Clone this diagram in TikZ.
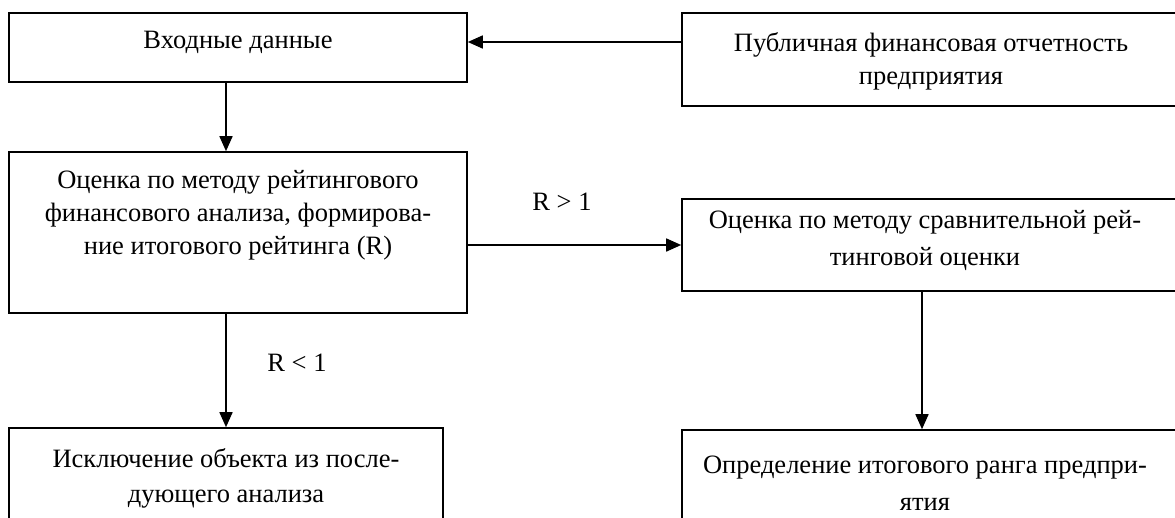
\documentclass[tikz,border=0pt]{standalone}
\usepackage{fontspec}
\setmainfont{Liberation Serif}
\usetikzlibrary{arrows.meta}
\tikzset{
  x=1pt, y=-1pt,
  box/.style={draw, line width=1.6pt, inner sep=0pt},
  txt/.style={align=center, inner sep=0pt, font=\fontsize{26.5}{33}\selectfont},
  conn/.style={line width=1.6pt, -{Triangle[length=15pt,width=13pt]}},
  lbl/.style={inner sep=0pt, font=\fontsize{26.5}{33}\selectfont}
}
\begin{document}
\begin{tikzpicture}
\clip (0,0) rectangle (1175,517);
% boxes
\node[box, minimum width=458pt, minimum height=69pt] (b1) at (238,47.5) {};
\node[box, minimum width=520pt, minimum height=93pt] (b2) at (942,59.5) {};
\node[box, minimum width=458pt, minimum height=161pt] (b3) at (238,232.5) {};
\node[box, minimum width=520pt, minimum height=92pt] (b4) at (942,245) {};
\node[box, minimum width=434pt, minimum height=120pt] (b5) at (226,488) {};
\node[box, minimum width=520pt, minimum height=120pt] (b6) at (942,490) {};
% texts
\node[txt] (t1) at (238,42) {Входные данные};
\node[txt] (t2) at (931,61.5) {Публичная финансовая отчетность\\предприятия};
\node[txt] (t3) at (238,215) {Оценка по методу рейтингового\\финансового анализа, формирова-\\ние итогового рейтинга (R)};
\node[txt, font=\fontsize{26.5}{37}\selectfont] (t4) at (925,240) {Оценка по методу сравнительной рей-\\тинговой оценки};
\node[txt, font=\fontsize{26.5}{35}\selectfont] (t5) at (226,478) {Исключение объекта из после-\\дующего анализа};
\node[txt, font=\fontsize{26.5}{37}\selectfont] (t6) at (925,483) {Определение итогового ранга предпри-\\ятия};
% connector helpers
\coordinate (xl) at (226,0);
\coordinate (xr) at (922,0);
\coordinate (y1) at (0,42);
\coordinate (y3) at (0,245);
% connectors
\draw[conn] (b2.west |- y1) -- (b1.east |- y1);
\draw[conn] (b1.south -| xl) -- (b3.north -| xl);
\draw[conn] (b3.east |- y3) -- (b4.west |- y3);
\draw[conn] (b3.south -| xl) -- (b5.north -| xl);
\draw[conn] (b4.south -| xr) -- (b6.north -| xr);
% labels
\node[lbl] (l1) at (562,202) {R > 1};
\node[lbl] (l2) at (297,363) {R < 1};
\end{tikzpicture}
\end{document}
